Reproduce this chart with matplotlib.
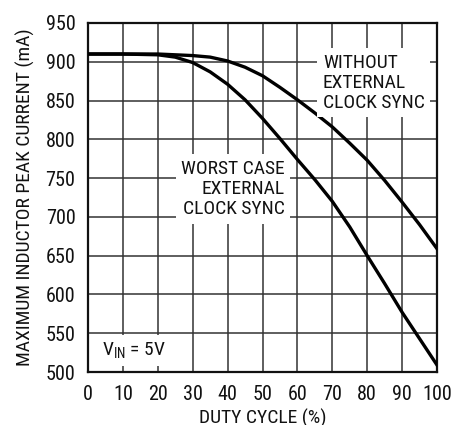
import matplotlib
matplotlib.use("Agg")
import matplotlib.pyplot as plt
from matplotlib import font_manager as fm

duty = [0, 10, 20, 25, 30, 35, 40, 45, 50, 55, 60, 65, 70, 75, 80, 85, 90, 95, 100]
without_sync = [910, 910, 910, 909, 908, 906, 901, 893, 882, 867, 851, 834, 816, 795, 773, 747, 719, 690, 659]
worst_sync = [910, 910, 909, 906, 899, 887, 871, 851, 827, 801, 774, 748, 720, 687, 650, 614, 577, 543, 509]

xticks = [0, 10, 20, 30, 40, 50, 60, 70, 80, 90, 100]
yticks = [500, 550, 600, 650, 700, 750, 800, 850, 900, 950]

# find a condensed sans font if one is installed
chosen = None
cands = []
for f in fm.fontManager.ttflist:
    nm = f.name.lower()
    fn = f.fname.lower()
    if f.weight not in (400, 'normal', 'regular') or f.style != 'normal':
        continue
    if 'narrow' in nm or 'condensed' in nm or 'narrow' in fn or 'condensed' in fn \
            or f.stretch in ('condensed', 'semi-condensed'):
        if 'mono' in nm or 'serif' in nm and 'sans' not in nm:
            continue
        score = 0
        if 'liberation' in nm or 'arial' in nm or 'helvet' in nm:
            score = 3
        elif 'roboto' in nm:
            score = 2
        elif 'dejavu' in nm:
            score = 1
        if 'bold' in fn or 'italic' in fn or 'oblique' in fn or 'light' in fn:
            continue
        cands.append((score, f.fname))
if cands:
    cands.sort(reverse=True)
    chosen = cands[0][1]

def fp(size):
    if chosen:
        return fm.FontProperties(fname=chosen, size=size)
    return fm.FontProperties(family=['Liberation Sans', 'DejaVu Sans'], size=size)

plt.rcParams['mathtext.default'] = 'regular'
if chosen:
    fm.fontManager.addfont(chosen)
    plt.rcParams['font.family'] = [fm.FontProperties(fname=chosen).get_name(), 'DejaVu Sans']
else:
    plt.rcParams['font.family'] = ['Liberation Sans', 'DejaVu Sans']

fig = plt.figure(figsize=(4.54, 4.25), dpi=100)
ax = fig.add_axes([88/454, 1-372/425, 349/454, 349/425])
ax.set_xlim(0, 100)
ax.set_ylim(500, 950)
ax.set_xticks(xticks)
ax.set_yticks(yticks)
ax.tick_params(length=0, pad=9, colors='#111')
for lab in ax.get_xticklabels() + ax.get_yticklabels():
    lab.set_fontproperties(fp(14.5))
ax.grid(True, color='#333', lw=1.1)
ax.set_axisbelow(True)
for s in ax.spines.values():
    s.set_linewidth(1.6)
    s.set_color('#111')

ax.plot(duty, without_sync, color='black', lw=2.4, zorder=3)
ax.plot(duty, worst_sync, color='black', lw=2.4, zorder=3)

ax.set_xlabel('DUTY CYCLE (%)', fontproperties=fp(14), labelpad=4, color='#111')
ax.set_ylabel('MAXIMUM INDUCTOR PEAK CURRENT (mA)', fontproperties=fp(14), labelpad=8, color='#111')

box = dict(facecolor='white', edgecolor='none', pad=4)
ax.text(67.3, 873, 'WITHOUT\nEXTERNAL\nCLOCK SYNC', ha='left', va='center',
        fontproperties=fp(14), linespacing=1.15, bbox=box, zorder=4, color='#111')
ax.text(56.4, 736, 'WORST CASE\nEXTERNAL\nCLOCK SYNC', ha='right', va='center',
        multialignment='right', fontproperties=fp(14), linespacing=1.15, bbox=box,
        zorder=4, color='#111')
ax.text(4, 528, 'V$_{IN}$ = 5V', ha='left', va='center', fontproperties=fp(14),
        bbox=box, zorder=4, color='#111')

fig.savefig('out.png', dpi=100)
